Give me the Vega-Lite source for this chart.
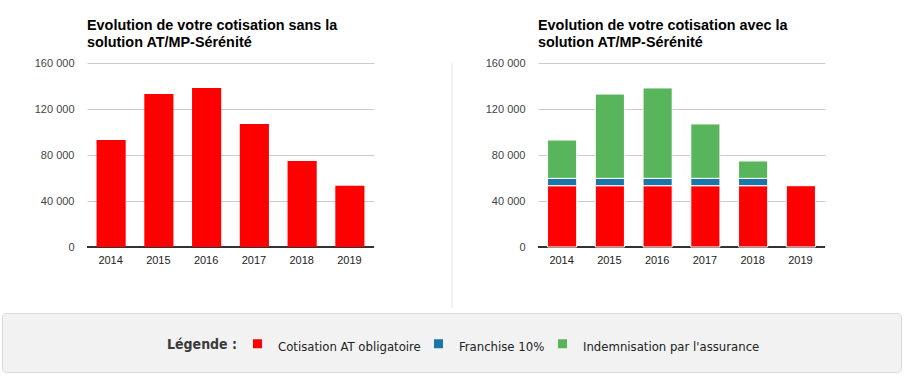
{
  "$schema": "https://vega.github.io/schema/vega-lite/v6.json",
  "padding": {"left": 1, "top": 17, "right": 0, "bottom": 0},
  "background": "#ffffff",
  "config": {
    "locale": {"number": {"decimal": ",", "thousands": " ", "grouping": [3], "currency": ["", " €"]}},
    "view": {"stroke": null},
    "title": {"anchor": "start", "frame": "group", "font": "Liberation Sans", "fontSize": 14.4, "fontWeight": "bold", "color": "#000000", "lineHeight": 17, "offset": 7},
    "axisX": {"title": null, "labelAngle": 0, "domainColor": "#333333", "domainWidth": 2, "translate": 0, "ticks": false, "labelPadding": 8, "labelFont": "Liberation Sans", "labelFontSize": 11, "labelColor": "#222222", "grid": false, "zindex": 1},
    "axisY": {"title": null, "domain": false, "ticks": false, "gridColor": "#cccccc", "labelPadding": 13, "labelFont": "Liberation Sans", "labelFontSize": 11, "labelColor": "#444444"}
  },
  "datasets": {
    "totaux": [
      {"annee": "2014", "montant": 93000},
      {"annee": "2015", "montant": 133000},
      {"annee": "2016", "montant": 138300},
      {"annee": "2017", "montant": 107000},
      {"annee": "2018", "montant": 74800},
      {"annee": "2019", "montant": 53300}
    ],
    "detail": [
      {"annee": "2014", "serie": "Cotisation AT obligatoire", "montant": 53300},
      {"annee": "2014", "serie": "Franchise 10%", "montant": 6400},
      {"annee": "2014", "serie": "Indemnisation par l'assurance", "montant": 33300},
      {"annee": "2015", "serie": "Cotisation AT obligatoire", "montant": 53300},
      {"annee": "2015", "serie": "Franchise 10%", "montant": 6400},
      {"annee": "2015", "serie": "Indemnisation par l'assurance", "montant": 73300},
      {"annee": "2016", "serie": "Cotisation AT obligatoire", "montant": 53300},
      {"annee": "2016", "serie": "Franchise 10%", "montant": 6400},
      {"annee": "2016", "serie": "Indemnisation par l'assurance", "montant": 78600},
      {"annee": "2017", "serie": "Cotisation AT obligatoire", "montant": 53300},
      {"annee": "2017", "serie": "Franchise 10%", "montant": 6400},
      {"annee": "2017", "serie": "Indemnisation par l'assurance", "montant": 47300},
      {"annee": "2018", "serie": "Cotisation AT obligatoire", "montant": 53300},
      {"annee": "2018", "serie": "Franchise 10%", "montant": 6400},
      {"annee": "2018", "serie": "Indemnisation par l'assurance", "montant": 15100},
      {"annee": "2019", "serie": "Cotisation AT obligatoire", "montant": 53300}
    ]
  },
  "spacing": 3,
  "resolve": {"scale": {"color": "independent"}, "legend": {"color": "independent"}},
  "vconcat": [
    {
      "spacing": 25,
      "hconcat": [
        {
          "width": 1,
          "height": 1,
          "data": {"values": [{}]},
          "mark": {"type": "text", "text": ""},
          "encoding": {}
        },
        {
          "width": 287,
          "height": 184,
          "title": {"text": ["Evolution de votre cotisation sans la", "solution AT/MP-Sérénité"]},
          "data": {"name": "totaux"},
          "mark": {"type": "bar", "color": "#ff0000"},
          "encoding": {
            "x": {"field": "annee", "type": "ordinal", "scale": {"paddingInner": 0.39, "paddingOuter": 0.2}},
            "y": {"field": "montant", "type": "quantitative", "scale": {"domain": [0, 160000]}, "axis": {"minExtent": 59, "values": [0, 40000, 80000, 120000, 160000], "format": ",.0f"}}
          }
        },
        {
          "width": 53,
          "height": 245,
          "data": {"values": [{}]},
          "mark": {"type": "rule", "color": "#e4e4e4", "strokeWidth": 1},
          "encoding": {"x": {"value": "width"}}
        },
        {
          "width": 287,
          "height": 184,
          "title": {"text": ["Evolution de votre cotisation avec la", "solution AT/MP-Sérénité"]},
          "data": {"name": "detail"},
          "mark": {"type": "bar", "stroke": "#ffffff", "strokeWidth": 1},
          "encoding": {
            "x": {"field": "annee", "type": "ordinal", "scale": {"paddingInner": 0.39, "paddingOuter": 0.2}},
            "y": {"field": "montant", "type": "quantitative", "aggregate": "sum", "stack": "zero", "scale": {"domain": [0, 160000]}, "axis": {"minExtent": 60, "values": [0, 40000, 80000, 120000, 160000], "format": ",.0f"}},
            "color": {"field": "serie", "type": "nominal", "scale": {"domain": ["Cotisation AT obligatoire", "Franchise 10%", "Indemnisation par l'assurance"], "range": ["#ff0000", "#1b75a8", "#58b55b"]}, "legend": null},
            "order": {"field": "serie", "sort": "ascending"}
          }
        }
      ]
    },
    {
      "width": 899,
      "height": 59,
      "view": {"fill": "#f2f2f2", "stroke": "#d9d9d9", "cornerRadius": 4},
      "data": {"name": "detail"},
      "mark": {"type": "square", "opacity": 0},
      "encoding": {
        "color": {
          "field": "serie", "type": "nominal",
          "scale": {"domain": ["Cotisation AT obligatoire", "Franchise 10%", "Indemnisation par l'assurance"], "range": ["#ff0000", "#1b75a8", "#58b55b"]},
          "legend": {
            "orient": "none", "legendX": 165, "legendY": 24, "direction": "horizontal",
            "title": "Légende :", "titleOrient": "left", "titleFont": "DejaVu Sans Condensed", "titleFontSize": 14, "titleFontWeight": "bold", "titleColor": "#3a3a3a", "titlePadding": 13,
            "symbolType": "square", "symbolSize": 81, "symbolOpacity": 1, "symbolStrokeWidth": 0,
            "labelFont": "DejaVu Sans Condensed", "labelFontSize": 13, "labelColor": "#222222", "labelOffset": 14, "columnPadding": 11, "labelLimit": 300,
            "encode": {"labels": {"update": {"dy": {"value": 3}}}}
          }
        }
      }
    }
  ]
}
